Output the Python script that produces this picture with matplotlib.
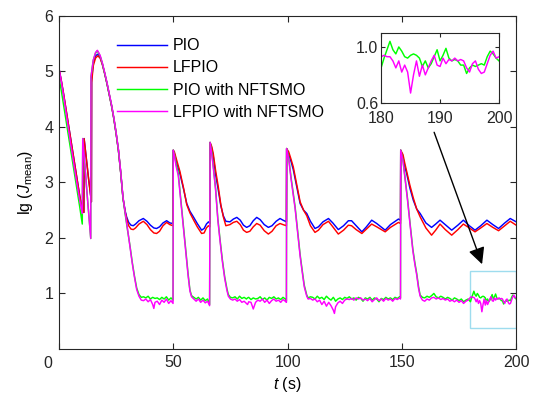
import numpy as np
import matplotlib
matplotlib.use('Agg')
import matplotlib.pyplot as plt
from matplotlib.patches import Rectangle

plt.rcParams['font.family'] = ['Liberation Sans', 'DejaVu Sans']
plt.rcParams['mathtext.fontset'] = 'custom'
plt.rcParams['mathtext.rm'] = 'Liberation Sans'
plt.rcParams['mathtext.it'] = 'Liberation Sans:italic'

# ---- data ----
# PIO (blue)
pio_t = [0, 1, 2, 3, 4, 5, 6, 7, 8, 9, 10, 10.9, 11.0, 12, 13, 14.2, 14.3, 15, 16, 17, 18, 19, 20,
         21, 22, 23, 24, 25, 26, 27, 28, 29, 29.6, 30.5, 31.5, 32.5, 33.5, 35, 36.9, 38.5, 40, 41.5,
         42.7, 44, 45.5, 47.1, 48.5, 49.9,
         50.0, 50.5, 51.5, 52.9, 54.5, 55.9, 57.3, 58.8, 60.5, 62.4, 63.5, 64.5, 65.4, 66.0,
         66.1, 66.8, 67.5, 68.5, 69.7, 70.8, 71.9, 73, 74.8, 76.3, 77.8, 79.3, 80.7, 82.1, 83.5, 85,
         86.5, 88, 89.8, 91.6, 93.2, 95, 96.7, 98, 99.5,
         99.6, 100.5, 101.5, 102.5, 104, 105.5, 107, 108.4, 110, 112, 113.5, 115.5, 117.9, 119.8,
         122.2, 124.5, 126.6, 128, 130, 132.5, 134.5, 136.8, 139, 142.7, 145, 148.5, 149.4,
         149.5, 150.5, 151.2, 152.1, 153.5, 155, 156.5, 158, 160.5, 163, 164.8, 166.7, 169, 171.8,
         174.5, 176.9, 179.5, 182, 184.5, 187.2, 189.8, 192.3, 195, 197.4, 200]
pio_y = [5.05, 4.84, 4.60, 4.34, 4.08, 3.82, 3.55, 3.30, 3.03, 2.78, 2.55, 2.46, 3.79, 3.42, 3.05,
         2.65, 4.85, 5.15, 5.28, 5.31, 5.26, 5.13, 4.96, 4.78, 4.58, 4.38, 4.15, 3.88, 3.58, 3.18,
         2.72, 2.48, 2.38, 2.28, 2.23, 2.22, 2.25, 2.31, 2.35, 2.30, 2.23, 2.18, 2.17, 2.20, 2.27,
         2.31, 2.27, 2.26,
         3.58, 3.52, 3.35, 3.16, 2.88, 2.62, 2.48, 2.38, 2.26, 2.14, 2.17, 2.25, 2.29, 2.26,
         3.72, 3.62, 3.47, 3.15, 2.86, 2.58, 2.40, 2.30, 2.29, 2.34, 2.37, 2.32, 2.23, 2.19, 2.22,
         2.31, 2.37, 2.33, 2.24, 2.19, 2.22, 2.30, 2.35, 2.32, 2.29,
         3.61, 3.50, 3.38, 3.23, 2.92, 2.62, 2.50, 2.44, 2.30, 2.17, 2.20, 2.29, 2.35, 2.27, 2.15,
         2.22, 2.31, 2.31, 2.22, 2.11, 2.20, 2.32, 2.26, 2.14, 2.24, 2.34, 2.32,
         3.58, 3.45, 3.30, 3.16, 2.90, 2.68, 2.52, 2.44, 2.27, 2.19, 2.25, 2.32, 2.24, 2.14, 2.23,
         2.32, 2.22, 2.14, 2.22, 2.32, 2.24, 2.17, 2.27, 2.35, 2.29]

# LFPIO (red)
lfpio_t = pio_t
lfpio_y = [5.05, 4.84, 4.60, 4.34, 4.08, 3.82, 3.55, 3.30, 3.03, 2.78, 2.55, 2.46, 3.79, 3.42, 3.05,
           2.65, 4.80, 5.10, 5.24, 5.28, 5.24, 5.12, 4.96, 4.78, 4.58, 4.38, 4.15, 3.88, 3.58, 3.18,
           2.72, 2.46, 2.35, 2.22, 2.16, 2.15, 2.18, 2.25, 2.30, 2.24, 2.15, 2.09, 2.08, 2.12, 2.22,
           2.28, 2.24, 2.22,
           3.58, 3.55, 3.40, 3.20, 2.90, 2.60, 2.45, 2.33, 2.20, 2.08, 2.09, 2.18, 2.22, 2.20,
           3.72, 3.65, 3.52, 3.22, 2.92, 2.60, 2.38, 2.22, 2.24, 2.28, 2.30, 2.24, 2.14, 2.10, 2.12,
           2.20, 2.26, 2.23, 2.13, 2.07, 2.12, 2.22, 2.26, 2.24, 2.22,
           3.61, 3.55, 3.42, 3.28, 2.96, 2.65, 2.50, 2.40, 2.22, 2.10, 2.14, 2.24, 2.30, 2.20, 2.07,
           2.14, 2.23, 2.22, 2.15, 2.08, 2.16, 2.25, 2.20, 2.11, 2.19, 2.28, 2.26,
           3.58, 3.50, 3.36, 3.20, 2.95, 2.72, 2.52, 2.38, 2.18, 2.05, 2.14, 2.25, 2.15, 2.05, 2.15,
           2.25, 2.18, 2.11, 2.18, 2.26, 2.19, 2.13, 2.22, 2.30, 2.23]

# PIO with NFTSMO (green)
smo_t = [0, 1, 2, 3, 4, 5, 6, 7, 8, 9, 10.2, 10.4, 11, 12, 13, 13.9, 14.0, 15, 16, 16.8, 18, 19, 20,
         21, 22, 23, 24, 25, 26, 27, 28, 29, 30, 31, 32, 33, 34, 35,
         36, 37, 38, 39, 40, 41, 41.5, 42, 43, 44, 45, 46, 47, 48, 49, 49.9,
         50.0, 50.5, 51.2, 52.2, 53.3, 54.4, 55.5, 56.5, 57.3, 58, 59, 60, 61, 62, 63, 64, 65, 65.9,
         66.1, 66.8, 67.5, 68.5, 69.5, 70.5, 71.5, 72.5, 73.5, 74.1, 75, 76, 77, 78, 79, 80, 81, 82,
         82.5, 83, 84, 85, 86, 87, 88, 89, 90, 91, 92, 93, 94, 95, 96, 97, 98, 99, 99.5,
         99.6, 100.5, 101.5, 102.5, 103.3, 104.5, 105.5, 106.2, 107.3, 108.4, 109, 110, 111, 112,
         113, 114, 115, 116, 117, 118, 119, 120, 120.5, 121, 122, 123, 124, 125, 126, 127, 128, 129,
         130, 131, 132, 133, 134, 135, 136, 137, 138, 139, 140, 141, 142, 143, 144, 145, 146, 147,
         148, 149, 149.4,
         149.5, 150.5, 151.5, 152.5, 153.6, 154.8, 155.7, 156.5, 157.3, 158, 159, 160, 161, 162,
         163, 164, 165, 166, 167, 168, 169, 170, 171, 172, 173, 174, 175, 176, 177, 178, 179,
         180, 180.5, 181, 181.5, 182, 182.5, 183, 183.5, 184, 184.5, 185, 185.5, 186, 186.5, 187,
         187.5, 188, 188.5, 189, 189.5, 190, 190.5, 191, 191.5, 192, 192.5, 193, 193.5, 194, 194.5,
         195, 195.5, 196, 196.5, 197, 197.5, 198, 198.5, 199, 199.5, 200]
pio_smo_y = [4.88, 4.66, 4.40, 4.14, 3.88, 3.62, 3.36, 3.10, 2.84, 2.58, 2.25, 3.79, 3.50, 2.95,
             2.45, 1.99, 4.90, 5.20, 5.33, 5.37, 5.28, 5.14, 4.97, 4.79, 4.59, 4.39, 4.16, 3.89,
             3.59, 3.19, 2.72, 2.42, 2.14, 1.88, 1.58, 1.32, 1.10, 0.98,
             0.93, 0.94, 0.92, 0.95, 0.90, 0.93, 0.92, 0.91, 0.92, 0.89, 0.93, 0.90, 0.94, 0.88,
             0.92, 0.88,
             3.58, 3.50, 3.35, 3.16, 2.70, 2.26, 1.78, 1.35, 1.06, 0.96, 0.93, 0.90, 0.93, 0.88,
             0.92, 0.87, 0.90, 0.80,
             3.72, 3.55, 3.30, 2.90, 2.35, 1.96, 1.60, 1.30, 1.08, 0.98, 0.93, 0.92, 0.94, 0.90,
             0.95, 0.91, 0.93, 0.90, 0.92, 0.93, 0.89, 0.92, 0.90, 0.91, 0.94, 0.89, 0.92, 0.88,
             0.93, 0.91, 0.94, 0.90, 0.92, 0.89, 0.93, 0.90, 0.86,
             3.61, 3.45, 3.10, 2.80, 2.56, 2.10, 1.70, 1.48, 1.15, 0.97, 0.92, 0.94, 0.93, 0.90,
             0.95, 0.91, 0.93, 0.89, 0.95, 0.91, 0.88, 0.93, 0.90, 0.86, 0.90, 0.92, 0.89, 0.93,
             0.91, 0.94, 0.90, 0.92, 0.88, 0.93, 0.91, 0.86, 0.92, 0.90, 0.93, 0.88, 0.92, 0.90,
             0.85, 0.91, 0.89, 0.93, 0.90, 0.92, 0.89, 0.93, 0.91, 0.94, 0.92,
             3.58, 3.40, 3.05, 2.70, 2.26, 1.80, 1.55, 1.36, 1.12, 0.97, 0.93, 0.92, 0.95, 0.93,
             0.96, 1.00, 0.94, 0.92, 0.95, 0.93, 0.90, 0.93, 0.91, 0.88, 0.92, 0.90, 0.87, 0.90,
             0.85, 0.88, 0.90,
             0.85, 0.92, 0.98, 1.04, 0.98, 0.95, 1.00, 0.97, 0.93, 0.92, 0.94, 0.95, 0.94, 0.92,
             0.86, 0.90, 0.85, 0.88, 0.93, 0.98, 0.90, 0.94, 0.99, 0.92, 0.90, 0.91, 0.90, 0.87,
             0.87, 0.81, 0.85, 0.87, 0.86, 0.87, 0.88, 0.87, 0.93, 0.97, 0.95, 0.92, 0.90]

# LFPIO with NFTSMO (magenta)
lfpio_smo_y = [5.06, 4.82, 4.56, 4.28, 4.00, 3.73, 3.46, 3.20, 2.95, 2.70, 2.44, 3.79, 3.50, 2.95,
               2.45, 1.99, 4.90, 5.20, 5.34, 5.38, 5.29, 5.15, 4.98, 4.80, 4.60, 4.40, 4.17, 3.90,
               3.60, 3.20, 2.74, 2.44, 2.16, 1.86, 1.56, 1.30, 1.07, 0.95,
               0.88, 0.87, 0.90, 0.85, 0.89, 0.80, 0.73, 0.84, 0.86, 0.80, 0.88, 0.84, 0.90, 0.82,
               0.87, 0.82,
               3.58, 3.48, 3.30, 3.12, 2.66, 2.22, 1.74, 1.32, 1.04, 0.94, 0.90, 0.86, 0.90, 0.84,
               0.88, 0.83, 0.86, 0.78,
               3.72, 3.52, 3.27, 2.87, 2.32, 1.93, 1.57, 1.27, 1.05, 0.95, 0.90, 0.88, 0.90, 0.86,
               0.89, 0.84, 0.86, 0.82, 0.80, 0.85, 0.84, 0.72, 0.84, 0.88, 0.86, 0.90, 0.84, 0.88,
               0.82, 0.87, 0.90, 0.86, 0.88, 0.84, 0.89, 0.86, 0.84,
               3.61, 3.42, 3.07, 2.77, 2.53, 2.07, 1.67, 1.45, 1.12, 0.95, 0.90, 0.91, 0.88, 0.90,
               0.85, 0.88, 0.80, 0.86, 0.77, 0.84, 0.78, 0.70, 0.64, 0.76, 0.83, 0.86, 0.82, 0.88,
               0.90, 0.89, 0.91, 0.88, 0.92, 0.90, 0.92, 0.88, 0.90, 0.87, 0.91, 0.85, 0.89, 0.92,
               0.87, 0.90, 0.86, 0.91, 0.88, 0.90, 0.86, 0.91, 0.89, 0.92, 0.90,
               3.58, 3.38, 3.02, 2.67, 2.23, 1.77, 1.52, 1.33, 1.09, 0.95, 0.88, 0.86, 0.90, 0.88,
               0.92, 0.93, 0.90, 0.92, 0.89, 0.91, 0.88, 0.90, 0.86, 0.88, 0.85, 0.88, 0.84, 0.87,
               0.82, 0.86, 0.88,
               0.93, 0.94, 0.93, 0.93, 0.90, 0.85, 0.90, 0.82, 0.87, 0.82, 0.67, 0.80, 0.90, 0.79,
               0.87, 0.80, 0.85, 0.90, 0.94, 0.87, 0.86, 0.92, 0.88, 0.91, 0.90, 0.92, 0.90, 0.91,
               0.90, 0.85, 0.82, 0.88, 0.90, 0.84, 0.81, 0.82, 0.88, 0.94, 0.97, 0.92, 0.93]

labels = ['PIO', 'LFPIO', 'PIO with NFTSMO', 'LFPIO with NFTSMO']
colors = ['#0000ff', '#ff0000', '#00ff00', '#ff00ff']

fig = plt.figure(figsize=(5.36, 3.97), dpi=100)
ax = fig.add_axes([0.110, 0.121, 0.853, 0.839])

series = [(pio_t, pio_y), (lfpio_t, lfpio_y), (smo_t, pio_smo_y), (smo_t, lfpio_smo_y)]
for (t, y), c, lab in zip(series, colors, labels):
    ax.plot(t, y, color=c, lw=1.05, label=lab)

ax.set_xlim(0, 200)
ax.set_ylim(0, 6)
ax.set_xticks([0, 50, 100, 150, 200])
ax.set_xticklabels(['', '50', '100', '150', '200'])
ax.set_yticks([1, 2, 3, 4, 5, 6])
ax.tick_params(direction='in', top=True, right=True, length=4, width=0.8,
               labelsize=11.5, pad=4, colors='#262626')
ax.text(-4.8, -0.27, '0', ha='center', va='center', fontsize=11.5, color='#262626', clip_on=False)
for s in ax.spines.values():
    s.set_linewidth(0.8)
    s.set_color('#262626')
ax.set_xlabel(r'$t$ (s)', fontsize=11.5, labelpad=4)
ax.set_ylabel(r'lg ($J_{\mathrm{mean}}$)', fontsize=11.5, labelpad=7)

ax.legend(loc='upper left', bbox_to_anchor=(0.113, 0.952), frameon=False, fontsize=11.5,
          handlelength=3.1, handletextpad=0.4, labelspacing=0.45, borderaxespad=0)

# zoom box and arrow
ax.add_patch(Rectangle((180, 0.38), 20, 1.03, fill=False, ec='#9edcee', lw=1.0))
ax.annotate('', xy=(185.5, 1.48), xytext=(163.7, 3.95),
            arrowprops=dict(arrowstyle='-|>', color='k', lw=1.0, mutation_scale=25))

# inset
axi = fig.add_axes([0.711, 0.741, 0.220, 0.176])
axi.plot(smo_t, pio_smo_y, color=colors[2], lw=1.05)
axi.plot(smo_t, lfpio_smo_y, color=colors[3], lw=1.05)
axi.set_xlim(180, 200)
axi.set_ylim(0.6, 1.1)
axi.set_xticks([180, 190, 200])
axi.set_yticks([0.6, 1.0])
axi.set_yticklabels(['0.6', '1.0'])
axi.tick_params(direction='in', top=True, right=True, length=3, width=0.8,
                labelsize=11.5, pad=2, colors='#262626')
axi.tick_params(axis='x', pad=6)
for s in axi.spines.values():
    s.set_linewidth(0.8)
    s.set_color('#262626')

fig.savefig('out.png', dpi=100)
